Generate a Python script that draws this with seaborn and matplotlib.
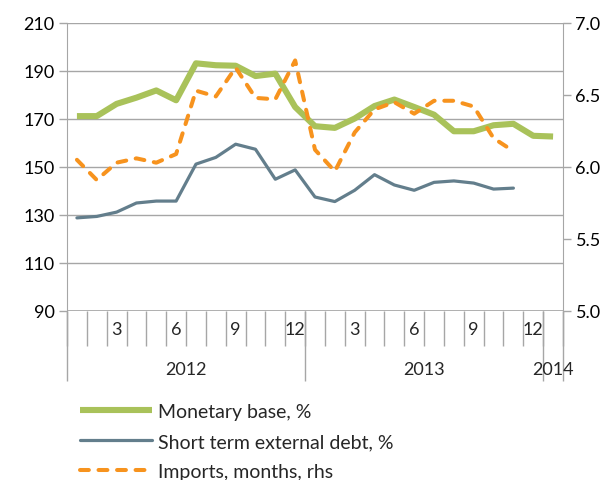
import numpy as np
import pandas as pd
import matplotlib
matplotlib.use("Agg")
import matplotlib.pyplot as plt
import matplotlib.transforms as mtransforms
import seaborn as sns

# Monthly data, Jan 2012 .. Jan 2014
months = [1, 2, 3, 4, 5, 6, 7, 8, 9, 10, 11, 12,
          1, 2, 3, 4, 5, 6, 7, 8, 9, 10, 11, 12, 1]
years = ["2012", "2013", "2014"]

monetary_base = [171.2, 171.2, 176.3, 178.9, 181.9, 177.8, 193.2, 192.4, 192.2,
                 187.9, 188.9, 175.0, 167.0, 166.3, 170.2, 175.4, 178.1, 175.0,
                 171.8, 164.9, 164.9, 167.4, 168.0, 163.0, 162.7]
short_term_debt = [128.8, 129.4, 131.2, 135.0, 135.8, 135.8, 151.2, 154.0, 159.5,
                   157.4, 144.9, 148.8, 137.5, 135.6, 140.3, 146.8, 142.5, 140.3,
                   143.6, 144.2, 143.3, 140.8, 141.2]
imports_months = [6.05, 5.91, 6.03, 6.06, 6.03, 6.09, 6.53, 6.49, 6.69, 6.48,
                  6.47, 6.74, 6.12, 5.97, 6.24, 6.40, 6.45, 6.37, 6.46, 6.46,
                  6.42, 6.20, 6.11]

GREEN = "#a9c25a"
BLUE = "#637e8c"
ORANGE = "#f7931e"
GRID = "#a6a6a6"

sns.set_style("white")
plt.rcParams["font.family"] = ["Lato", "DejaVu Sans"]

fig = plt.figure(figsize=(6.10, 4.81), dpi=100)
ax = fig.add_axes([67 / 610, 1 - 312 / 481, 496 / 610, 288 / 481])
ax2 = ax.twinx()

idx = np.arange(len(months))
sns.lineplot(x=idx, y=monetary_base, ax=ax, color=GREEN, lw=4.4,
             solid_capstyle="butt", label="Monetary base, %", legend=False)
sns.lineplot(x=idx[:len(short_term_debt)], y=short_term_debt, ax=ax, color=BLUE,
             lw=2.3, label="Short term external debt, %", legend=False)
sns.lineplot(x=idx[:len(imports_months)], y=imports_months, ax=ax2, color=ORANGE,
             lw=2.9, label="Imports, months, rhs", legend=False)
ax2.lines[0].set_dashes((2.2, 2.4))
ax2.lines[0].set_dash_capstyle("round")

ax.set_xlim(-0.5, len(months) - 0.5)
ax.set_ylim(90, 210)
ax.set_yticks(np.arange(90, 211, 20))
ax2.set_ylim(5.0, 7.0)
ax2.set_yticks(np.arange(5.0, 7.01, 0.5))
ax2.set_yticklabels([f"{v:.1f}" for v in np.arange(5.0, 7.01, 0.5)])

ax.grid(axis="y", color=GRID, lw=1)
ax.set_axisbelow(True)
for a in (ax, ax2):
    for s in a.spines.values():
        s.set_visible(False)
    a.set_xlabel("")
    a.set_ylabel("")
ax.spines["left"].set_visible(True)
ax.spines["left"].set_color(GRID)
ax2.spines["right"].set_visible(True)
ax2.spines["right"].set_color(GRID)

ax.tick_params(axis="y", length=6, width=1, color=GRID, labelsize=13,
               labelcolor="black", pad=3, left=True)
ax2.tick_params(axis="y", length=6, width=1, color=GRID, labelsize=13,
                labelcolor="black", pad=3, right=True)

# category axis: month boundaries as ticks, month labels at centres
ax.set_xticks(np.arange(-0.5, len(months), 1.0))
ax.set_xticklabels([])
ax.tick_params(axis="x", which="major", length=25, width=1, color=GRID,
               direction="out", bottom=True)
ax.set_xticks(idx, minor=True)
ax.set_xticklabels([str(m) if m % 3 == 0 else "" for m in months], minor=True)
ax.tick_params(axis="x", which="minor", length=0, labelsize=13, pad=7)

trans = mtransforms.blended_transform_factory(ax.transData, ax.transAxes)
year_edges = [-0.5, 11.5, 23.5, 24.5]
ax.vlines(year_edges, 0, -70 / 288, transform=trans, colors=GRID, lw=1,
          clip_on=False)
ax.axhline(90, color=GRID, lw=1.2)
for i, y in enumerate(years):
    ax.text((year_edges[i] + year_edges[i + 1]) / 2, -58 / 288, y,
            transform=trans, ha="center", va="center", fontsize=13)

h1, l1 = ax.get_legend_handles_labels()
h2, l2 = ax2.get_legend_handles_labels()
fig.legend(h1 + h2, l1 + l2, loc="upper left", bbox_to_anchor=(72 / 610, 1 - 396 / 481),
           frameon=False, fontsize=14, handlelength=3.7, handletextpad=0.3,
           labelspacing=0.68, borderaxespad=0)

fig.savefig("out.png", dpi=100)
